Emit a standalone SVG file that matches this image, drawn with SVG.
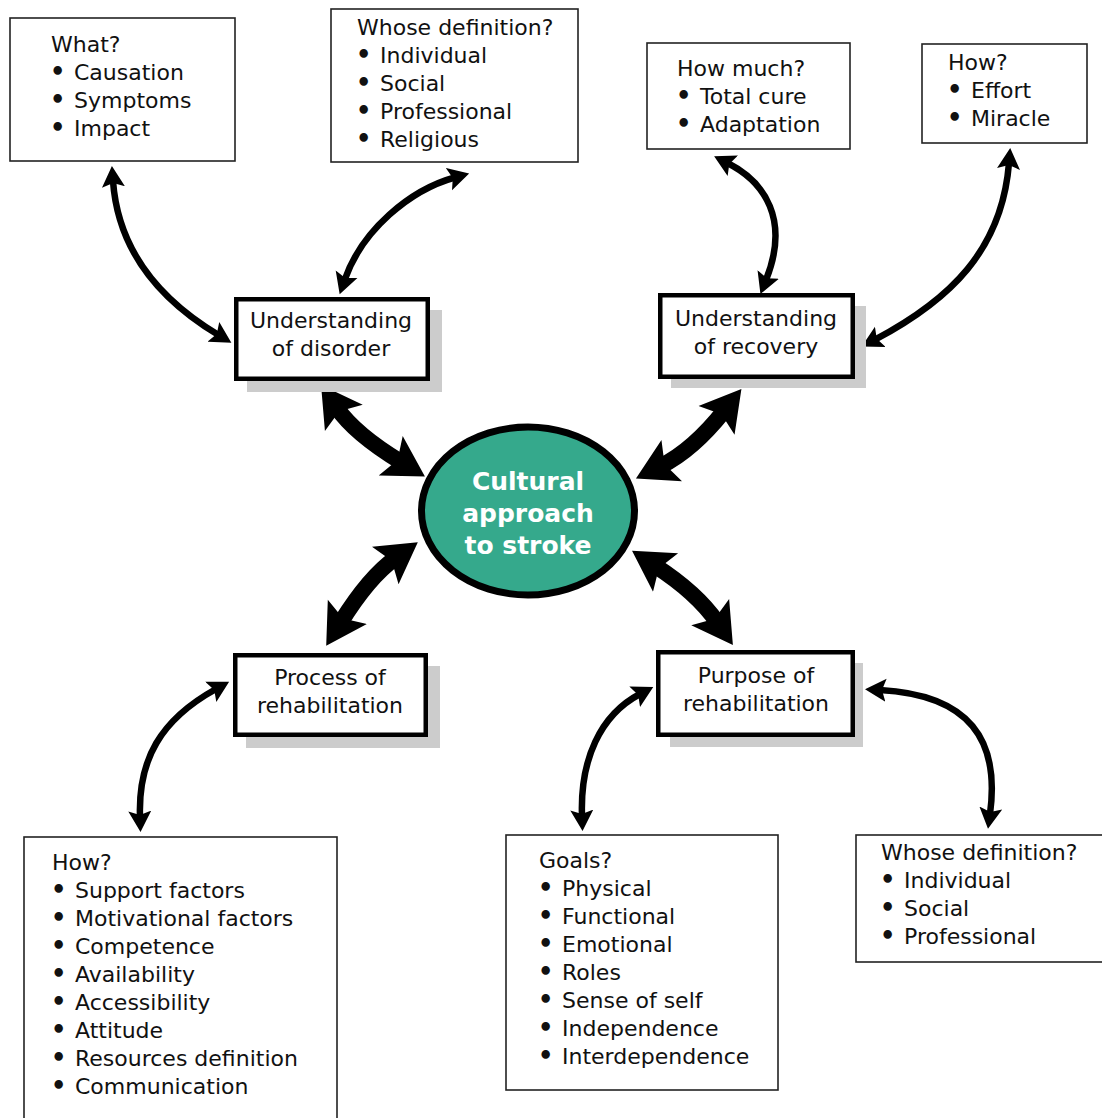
<svg xmlns="http://www.w3.org/2000/svg" width="1102" height="1118" viewBox="0 0 1102 1118">
<style>
  .box{fill:#fff;stroke:#222;stroke-width:1.6}
  .node{fill:#fff;stroke:#000;stroke-width:4.5}
  .shadow{fill:#cccccc}
  text{font-family:"DejaVu Sans","Liberation Sans",sans-serif;font-size:22px;fill:#111}
  .b{font-size:24px;font-weight:bold}
  .c{text-anchor:middle}
  .hub{font-weight:bold;font-size:25px;fill:#fff}
  .thin{fill:none;stroke:#000;stroke-width:6.5;marker-start:url(#ah);marker-end:url(#ah)}
  .thick{fill:none;stroke:#000;stroke-width:16;marker-start:url(#AH);marker-end:url(#AH)}
</style>
<defs>
  <marker id="ah" markerUnits="userSpaceOnUse" viewBox="0 -12 22 24" markerWidth="22" markerHeight="24" refX="6" refY="0" orient="auto-start-reverse">
    <path d="M0,-11.5 L21,0 L0,11.5 L4,0 Z" fill="#000"/>
  </marker>
  <marker id="AH" markerUnits="userSpaceOnUse" viewBox="0 -24 42 48" markerWidth="42" markerHeight="48" refX="12" refY="0" orient="auto-start-reverse">
    <path d="M0,-23 L40,0 L0,23 L8,0 Z" fill="#000"/>
  </marker>
</defs>

<g id="connectors">
  <path class="thin" d="M113,181 C118,250 160,300 218.5,335"/>
  <path class="thin" d="M454.7,177.5 C410,190 362,230 344.6,280"/>
  <path class="thin" d="M727.5,163 C765,182 790,220 766,280"/>
  <path class="thin" d="M1009,163 C1002,250 950,300 875,339.6"/>
  <path class="thin" d="M216,689 C160,720 138,760 140,817"/>
  <path class="thin" d="M640,694 C600,715 580,760 582,816"/>
  <path class="thin" d="M880,690 C970,695 1000,740 990,814"/>
  <path class="thick" d="M337,408 Q355,434 401,462"/>
  <path class="thick" d="M724,411 Q693,450 661,466"/>
  <path class="thick" d="M395,558.5 Q369,577 341,622"/>
  <path class="thick" d="M655.5,566 Q697,593 717,622"/>
</g>

<g id="what">
  <rect class="box" x="10" y="18" width="225" height="143"/>
  <text x="51" y="52">What?</text>
  <text x="50" y="80"><tspan class="b">•</tspan><tspan x="74">Causation</tspan></text>
  <text x="50" y="108"><tspan class="b">•</tspan><tspan x="74">Symptoms</tspan></text>
  <text x="50" y="136"><tspan class="b">•</tspan><tspan x="74">Impact</tspan></text>
</g>

<g id="whose-top">
  <rect class="box" x="331" y="9" width="247" height="153"/>
  <text x="357" y="35">Whose definition?</text>
  <text x="356" y="63"><tspan class="b">•</tspan><tspan x="380">Individual</tspan></text>
  <text x="356" y="91"><tspan class="b">•</tspan><tspan x="380">Social</tspan></text>
  <text x="356" y="119"><tspan class="b">•</tspan><tspan x="380">Professional</tspan></text>
  <text x="356" y="147"><tspan class="b">•</tspan><tspan x="380">Religious</tspan></text>
</g>

<g id="how-much">
  <rect class="box" x="647" y="43" width="203" height="106"/>
  <text x="677" y="76">How much?</text>
  <text x="676" y="104"><tspan class="b">•</tspan><tspan x="700">Total cure</tspan></text>
  <text x="676" y="132"><tspan class="b">•</tspan><tspan x="700">Adaptation</tspan></text>
</g>

<g id="how-top">
  <rect class="box" x="922" y="44" width="165" height="99"/>
  <text x="948" y="70">How?</text>
  <text x="947" y="98"><tspan class="b">•</tspan><tspan x="971">Effort</tspan></text>
  <text x="947" y="126"><tspan class="b">•</tspan><tspan x="971">Miracle</tspan></text>
</g>

<g id="understanding-disorder">
  <rect class="shadow" x="247" y="310" width="195" height="82"/>
  <rect class="node" x="236.25" y="299.25" width="191.5" height="79.5"/>
  <text class="c" x="331" y="328">Understanding</text>
  <text class="c" x="331" y="356">of disorder</text>
</g>

<g id="understanding-recovery">
  <rect class="shadow" x="671" y="306" width="195" height="82"/>
  <rect class="node" x="660.25" y="295.25" width="192.5" height="81.5"/>
  <text class="c" x="756" y="326">Understanding</text>
  <text class="c" x="756" y="354">of recovery</text>
</g>

<g id="hub">
  <ellipse cx="528" cy="511" rx="106.5" ry="84" fill="#35a98c" stroke="#000" stroke-width="7"/>
  <text class="c hub" x="528" y="490">Cultural</text>
  <text class="c hub" x="528" y="522">approach</text>
  <text class="c hub" x="528" y="554">to stroke</text>
</g>

<g id="process">
  <rect class="shadow" x="246" y="666" width="194" height="82"/>
  <rect class="node" x="235.25" y="655.25" width="190.5" height="79.5"/>
  <text class="c" x="330" y="685">Process of</text>
  <text class="c" x="330" y="713">rehabilitation</text>
</g>

<g id="purpose">
  <rect class="shadow" x="670" y="663" width="193" height="84"/>
  <rect class="node" x="658.25" y="652.25" width="194.5" height="82.5"/>
  <text class="c" x="756" y="683">Purpose of</text>
  <text class="c" x="756" y="711">rehabilitation</text>
</g>

<g id="how-bottom">
  <rect class="box" x="24" y="837" width="313" height="300"/>
  <text x="52" y="870">How?</text>
  <text x="51" y="898"><tspan class="b">•</tspan><tspan x="75">Support factors</tspan></text>
  <text x="51" y="926"><tspan class="b">•</tspan><tspan x="75">Motivational factors</tspan></text>
  <text x="51" y="954"><tspan class="b">•</tspan><tspan x="75">Competence</tspan></text>
  <text x="51" y="982"><tspan class="b">•</tspan><tspan x="75">Availability</tspan></text>
  <text x="51" y="1010"><tspan class="b">•</tspan><tspan x="75">Accessibility</tspan></text>
  <text x="51" y="1038"><tspan class="b">•</tspan><tspan x="75">Attitude</tspan></text>
  <text x="51" y="1066"><tspan class="b">•</tspan><tspan x="75">Resources definition</tspan></text>
  <text x="51" y="1094"><tspan class="b">•</tspan><tspan x="75">Communication</tspan></text>
</g>

<g id="goals">
  <rect class="box" x="506" y="835" width="272" height="255"/>
  <text x="539" y="868">Goals?</text>
  <text x="538" y="896"><tspan class="b">•</tspan><tspan x="562">Physical</tspan></text>
  <text x="538" y="924"><tspan class="b">•</tspan><tspan x="562">Functional</tspan></text>
  <text x="538" y="952"><tspan class="b">•</tspan><tspan x="562">Emotional</tspan></text>
  <text x="538" y="980"><tspan class="b">•</tspan><tspan x="562">Roles</tspan></text>
  <text x="538" y="1008"><tspan class="b">•</tspan><tspan x="562">Sense of self</tspan></text>
  <text x="538" y="1036"><tspan class="b">•</tspan><tspan x="562">Independence</tspan></text>
  <text x="538" y="1064"><tspan class="b">•</tspan><tspan x="562">Interdependence</tspan></text>
</g>

<g id="whose-bottom">
  <rect class="box" x="856" y="835" width="260" height="127"/>
  <text x="881" y="860">Whose definition?</text>
  <text x="880" y="888"><tspan class="b">•</tspan><tspan x="904">Individual</tspan></text>
  <text x="880" y="916"><tspan class="b">•</tspan><tspan x="904">Social</tspan></text>
  <text x="880" y="944"><tspan class="b">•</tspan><tspan x="904">Professional</tspan></text>
</g>
</svg>
